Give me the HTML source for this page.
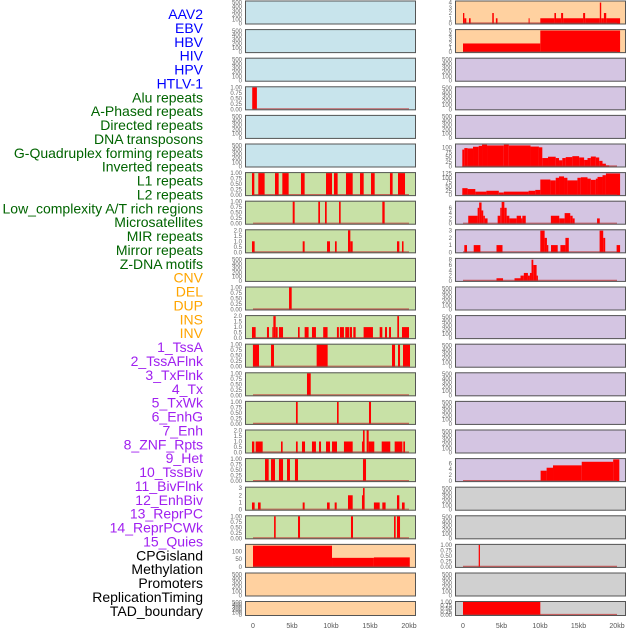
<!DOCTYPE html>
<html><head><meta charset="utf-8"><style>
html,body{margin:0;padding:0;background:#fff;width:630px;height:630px;overflow:hidden}
svg{display:block;font-family:"Liberation Sans",sans-serif}
</style></head><body>
<svg id="chart" width="630" height="630" viewBox="0 0 630 630"></svg>
<script>
const trackLabels=["AAV2","EBV","HBV","HIV","HPV","HTLV-1","Alu repeats","A-Phased repeats","Directed repeats","DNA transposons","G-Quadruplex forming repeats","Inverted repeats","L1 repeats","L2 repeats","Low_complexity A/T rich regions","Microsatellites","MIR repeats","Mirror repeats","Z-DNA motifs","CNV","DEL","DUP","INS","INV","1_TssA","2_TssAFlnk","3_TxFlnk","4_Tx","5_TxWk","6_EnhG","7_Enh","8_ZNF_Rpts","9_Het","10_TssBiv","11_BivFlnk","12_EnhBiv","13_ReprPC","14_ReprPCWk","15_Quies","CPGisland","Methylation","Promoters","ReplicationTiming","TAD_boundary"];
const labelColors=["#0000ff","#0000ff","#0000ff","#0000ff","#0000ff","#0000ff","#006400","#006400","#006400","#006400","#006400","#006400","#006400","#006400","#006400","#006400","#006400","#006400","#006400","#ffa500","#ffa500","#ffa500","#ffa500","#ffa500","#a020f0","#a020f0","#a020f0","#a020f0","#a020f0","#a020f0","#a020f0","#a020f0","#a020f0","#a020f0","#a020f0","#a020f0","#a020f0","#a020f0","#a020f0","#000","#000","#000","#000","#000"];
const xTicks=[0,5,10,15,20];
const xTickLabels=["0","5kb","10kb","15kb","20kb"];
const T500=[0,100,200,300,400,500], T1=[0,0.25,0.5,0.75,1], T2=[0,0.5,1,1.5,2];
// segments: [startKb, endKb, value]
const L_alu=[[-0.1,0.5,1]];
const L_r6=[[-0.13,0.17,1],[0.68,1.49,1],[2.82,3.29,1],[3.76,4.57,1],[6.15,6.62,1],[9.36,10.13,1],[10.38,10.85,1],[11.92,12.78,1],[13.72,14.19,1],[15.13,15.6,1],[17.56,17.9,1],[18.59,19.49,1]];
const L_r7=[[5.09,5.34,1],[8.37,8.59,1],[9.23,9.45,1],[11.03,11.24,1],[16.58,16.88,1]];
const L_r8=[[-0.13,0.21,1],[6.37,6.62,1],[9.49,9.87,1],[10.51,10.73,1],[12.18,12.48,2],[12.48,12.78,1],[18.46,18.76,1],[19.1,19.3,1]];
const L_r10=[[4.62,4.96,1]];
const L_r11=[[-0.13,0.34,1],[1.79,2.05,1],[2.48,2.61,1],[2.61,2.91,2],[2.91,3.16,1],[3.33,3.85,1],[5.77,5.98,1],[6.62,7.13,1],[7.56,8.07,1],[9.0,9.56,1],[10.76,11.01,1],[11.14,11.66,1],[11.83,12.35,1],[12.43,12.69,1],[12.86,13.16,1],[14.18,15.38,1],[16.24,16.58,1],[16.92,17.18,1],[17.44,17.69,1],[18.5,18.72,2],[19.1,20.0,1]];
const L_r12=[[-0.01,0.77,1],[2.31,2.69,1],[8.16,9.57,1],[17.82,18.21,1],[18.59,18.85,1],[19.23,20.13,1]];
const L_r13=[[6.92,7.4,1]];
const L_r14=[[5.51,5.73,1],[10.77,10.98,1],[14.87,15.13,1]];
const L_r15=[[-0.13,0.17,1],[0.34,1.24,1],[3.59,3.8,1],[5.51,5.73,1],[6.28,6.67,1],[7.56,8.07,1],[8.46,8.72,1],[9.36,9.87,1],[10.13,10.77,1],[11.66,12.78,1],[13.97,14.1,1],[14.1,14.31,2],[14.57,14.83,2],[14.83,15.55,1],[16.5,17.6,1],[18.16,19.15,1],[19.27,19.49,1]];
const L_r16=[[1.54,2.01,1],[2.31,2.82,1],[3.33,3.85,1],[4.36,4.74,1],[5.38,5.77,1],[14.1,14.49,1]];
const L_r17=[[-0.13,0.21,1],[0.64,0.98,1],[6.37,6.62,1],[9.49,9.83,1],[10.47,10.73,1],[12.18,12.78,2],[13.97,14.1,2],[14.1,14.31,3],[15.5,16.24,1],[16.58,17.0,1],[18.46,18.76,2],[19.1,19.44,1]];
const L_r18=[[2.7,2.91,1],[5.77,6.03,1],[12.56,12.82,1],[18.08,18.29,1],[18.46,18.85,1]];
const L_meth=[[0,10.13,136],[10.13,15.5,58],[15.5,20.1,61]];
const R_r0=[[0,0.17,2],[0.17,0.43,1],[0.78,0.99,1],[3.8,4.0,2],[4.27,4.48,1],[8.52,8.65,1],[10.04,11.87,1],[11.87,12.08,2],[12.08,12.74,1],[12.74,13.0,2],[13.0,15.6,1],[15.6,15.86,2],[15.86,17.77,1],[17.77,17.95,4],[17.95,18.3,1],[18.3,18.6,2],[18.6,20.4,1]];
const R_r1=[[0,10.04,2],[10.04,20.4,5]];
const R_r5=[[-0.09,0.17,90],[0.17,0.6,98],[0.6,1.3,96],[1.3,2.04,105],[2.04,2.47,110],[2.47,3.12,116],[3.12,5.3,112],[5.3,5.95,116],[5.95,8.77,112],[8.77,9.86,106],[9.86,10.3,102],[10.3,11.04,45],[11.04,12.04,52],[12.04,12.47,45],[12.47,12.9,33],[12.9,13.34,45],[13.34,14.2,50],[14.2,15.08,55],[15.08,15.73,48],[15.73,16.17,35],[16.17,16.6,45],[16.6,17.25,53],[17.25,17.69,48],[17.69,18.12,30],[18.12,18.56,15],[18.56,18.99,6]];
const R_r6=[[-0.09,0.6,40],[0.6,1.6,35],[1.6,3.04,20],[3.04,4.65,25],[4.65,5.3,15],[5.3,8.52,20],[8.52,9.39,25],[9.39,10.04,30],[10.04,11.35,90],[11.35,12.04,85],[12.04,12.47,100],[12.47,13.12,108],[13.12,13.56,100],[13.56,14.86,85],[14.86,15.3,100],[15.3,16.17,103],[16.17,16.6,95],[16.6,17.25,88],[17.25,17.47,95],[17.47,18.12,105],[18.12,18.56,115],[18.56,20.4,125]];
const R_r7=[[0.68,1.9,3],[1.9,2.1,6],[2.1,2.41,8],[2.41,2.63,5],[2.63,2.84,3],[2.84,3.19,2],[4.5,4.84,3],[4.84,5.02,6],[5.02,5.37,8.2],[5.37,5.67,6],[5.67,6.02,3],[6.02,6.97,2],[6.97,7.54,3],[7.54,7.71,2],[7.71,8.15,3],[11.41,12.5,3],[12.5,13.2,2],[13.2,13.93,4],[13.93,14.24,3],[14.24,14.5,2],[17.41,17.76,2]];
const R_r8=[[0.17,0.52,1],[1.39,2.26,1],[4.35,5.13,1],[10.04,10.6,3],[10.6,10.9,2],[10.9,11.08,1],[11.43,12.3,1],[12.65,13.3,1],[13.3,13.74,2],[17.74,18.21,3],[18.21,18.47,2],[19.95,20.4,1]];
const R_r9=[[4.35,5.2,1],[6.69,7.47,1],[7.47,7.9,2],[7.9,8.43,3],[8.43,8.69,2],[8.69,8.9,3],[8.9,9.13,8],[9.13,9.56,6],[9.56,9.73,2]];
const R_r16=[[10.08,10.86,3.5],[10.86,11.69,4.5],[11.69,15.42,5.3],[15.42,19.5,6.5],[19.5,20.3,7.3]];
const R_r19=[[2.04,2.2,1]];
const R_r21=[[0,10.04,1]];

const BLUE="#c8e4ec",GREEN="#c8e1a6",PEACH="#ffd1a0",PURP="#d4c5e2",GRAY="#d0d0d0";
// panel specs: [column, row, bg, data, ymax, ticks, tickDecimals, baseline]
const panels=[
 ["L",0,BLUE,null,520,T500,0],["L",1,BLUE,null,520,T500,0],["L",2,BLUE,null,520,T500,0],
 ["L",3,BLUE,L_alu,1,T1,2],["L",4,BLUE,null,520,T500,0],["L",5,BLUE,null,520,T500,0],
 ["L",6,GREEN,L_r6,1,T1,2],["L",7,GREEN,L_r7,1,T1,2],["L",8,GREEN,L_r8,2,T2,1],
 ["L",9,GREEN,null,520,T500,0],["L",10,GREEN,L_r10,1,T1,2],["L",11,GREEN,L_r11,2,T2,1],
 ["L",12,GREEN,L_r12,1,T1,2],["L",13,GREEN,L_r13,1,T1,2],["L",14,GREEN,L_r14,1,T1,2],
 ["L",15,GREEN,L_r15,2,T2,1],["L",16,GREEN,L_r16,1,T1,2],["L",17,GREEN,L_r17,3.05,[0,1,2,3],0],
 ["L",18,GREEN,L_r18,1,T1,2],["L",19,PEACH,L_meth,141,[0,50,100],0],["L",20,PEACH,null,520,T500,0],["L",21,PEACH,null,520,T500,0],
 ["R",0,PEACH,R_r0,4.2,[0,1,2,3,4],0],["R",1,PEACH,R_r1,5.1,[0,1,2,3,4,5],0],["R",2,PURP,null,520,T500,0],
 ["R",3,PURP,null,520,T500,0],["R",4,PURP,null,520,T500,0],["R",5,PURP,R_r5,117,[0,25,50,75,100],0],
 ["R",6,PURP,R_r6,127,[0,25,50,75,100,125],0],["R",7,PURP,R_r7,8.3,[0,2,4,6],0],["R",8,PURP,R_r8,3.05,[0,1,2,3],0],
 ["R",9,PURP,R_r9,8.3,[0,2,4,6,8],0],["R",10,PURP,null,520,T500,0],["R",11,PURP,null,520,T500,0],
 ["R",12,PURP,null,520,T500,0],["R",13,PURP,null,520,T500,0],["R",14,PURP,null,520,T500,0],
 ["R",15,PURP,null,520,T500,0],["R",16,PURP,R_r16,7.4,[0,2,4,6],0],["R",17,GRAY,null,520,T500,0],
 ["R",18,GRAY,null,520,T500,0],["R",19,GRAY,R_r19,1,T1,2],["R",20,GRAY,null,520,T500,0],["R",21,GRAY,R_r21,1,T1,2]
];
const NS="http://www.w3.org/2000/svg";
const svg=document.getElementById("chart");
function mk(tag,attrs,parent){const e=document.createElementNS(NS,tag);for(const k in attrs)e.setAttribute(k,attrs[k]);(parent||svg).appendChild(e);return e;}
const colGeom={L:{x0:245,x1:416,k0:253,k20:409},R:{x0:455,x1:626,k0:463,k20:617}};
function xScale(col,kb){const g=colGeom[col];return g.k0+(g.k20-g.k0)*kb/20;}
function rowTop(r){return r<21?0.5+28.6*r:601;}
function rowH(r){return r<21?24:15;}

// labels
trackLabels.forEach((t,i)=>{
  const e=mk("text",{x:203,y:14+i*13.88+5,"text-anchor":"end","font-size":"14",fill:labelColors[i]});
  e.textContent=t;
  
  
});

panels.forEach(p=>{
  const [col,row,bg,data,ymax,ticks,dec]=p;
  const g=colGeom[col];const top=rowTop(row),h=rowH(row);
  const grp=mk("g",{});
  
  
  mk("rect",{x:g.x0,y:top,width:g.x1-g.x0,height:h,fill:bg},grp);
  const yS=v=>top+h-1-(h-2)*v/ymax;
  if(data){
    data.forEach(s=>{
      const xa=xScale(col,s[0]),xb=xScale(col,s[1]);
      const r=mk("rect",{x:xa,y:yS(s[2]),width:Math.max(1,xb-xa),height:yS(0)-yS(s[2]),fill:"#ff0000"},grp);
      
      
    });
    mk("line",{x1:xScale(col,0),x2:xScale(col,20),y1:top+h-1.5,y2:top+h-1.5,stroke:"#c03030","stroke-width":1.2,opacity:0.7},grp);
  }
  mk("rect",{x:g.x0+0.5,y:top+0.5,width:g.x1-g.x0-1,height:h-1,fill:"none",stroke:"#555","stroke-width":1},grp);
  ticks.forEach(t=>{
    const tx=mk("text",{x:g.x0-3,y:yS(t)+2,"text-anchor":"end","font-size":"6",fill:"#666"},grp);
    tx.textContent=t.toFixed(dec);
    
    
  });
});
// x axes
["L","R"].forEach(col=>{
  xTicks.forEach((t,i)=>{
    const tx=mk("text",{x:xScale(col,t),y:628,"text-anchor":"middle","font-size":"7",fill:"#555"});
    tx.textContent=xTickLabels[i];
    
    
  });
});
</script>
</body></html>
